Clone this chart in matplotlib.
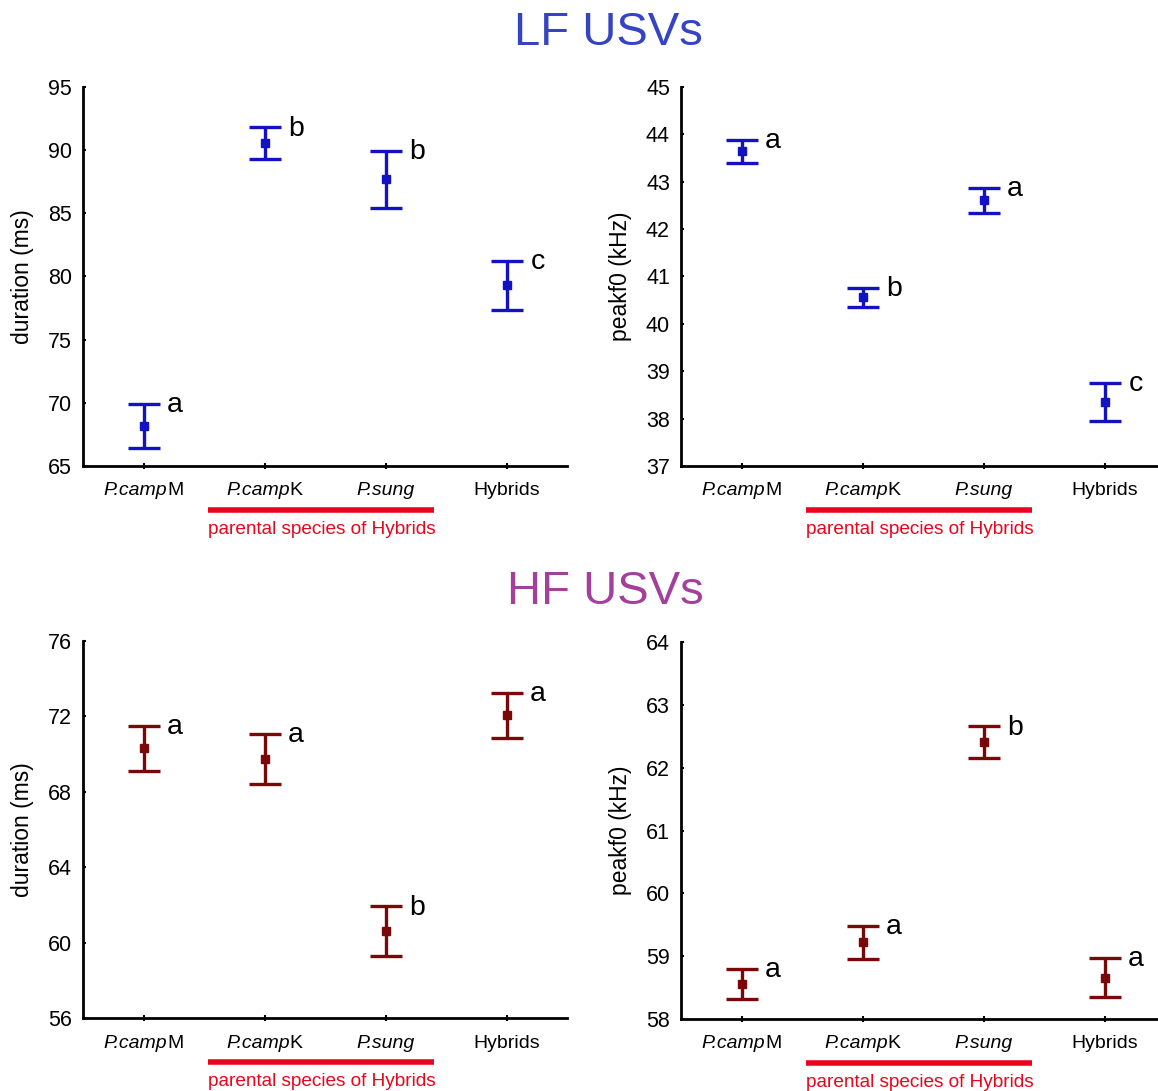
import numpy as np
import matplotlib.pyplot as plt
from matplotlib import transforms
from matplotlib.offsetbox import TextArea, HPacker, AnnotationBbox

plt.rcParams['font.family'] = ['Liberation Sans', 'DejaVu Sans']

# groups on the x axis: (italic part, upright part)
groups = [('P.camp', 'M'), ('P.camp', 'K'), ('P.sung', ''), ('', 'Hybrids')]

# LF USVs
lf_dur_mean = [68.17, 90.57, 87.69, 79.30]
lf_dur_err = [1.75, 1.24, 2.25, 1.96]
lf_dur_letters = ['a', 'b', 'b', 'c']

lf_pk_mean = [43.64, 40.56, 42.61, 38.35]
lf_pk_err = [0.24, 0.20, 0.26, 0.40]
lf_pk_letters = ['a', 'b', 'a', 'c']

# HF USVs
hf_dur_mean = [70.30, 69.73, 60.60, 72.06]
hf_dur_err = [1.21, 1.33, 1.32, 1.19]
hf_dur_letters = ['a', 'a', 'b', 'a']

hf_pk_mean = [58.56, 59.22, 62.41, 58.66]
hf_pk_err = [0.24, 0.265, 0.25, 0.31]
hf_pk_letters = ['a', 'a', 'b', 'a']

BLUE = '#1212C4'
DRED = '#7A0808'
RED = '#E8061E'


def panel(ax, mean, err, letters, color, ylim, yticks, ylabel):
    x = np.arange(len(groups))
    mean = np.array(mean)
    err = np.array(err)
    ax.errorbar(x, mean, yerr=err, fmt='s', ms=6, color=color,
                elinewidth=2.4, capsize=11.5, capthick=2.4, clip_on=False)
    for xi, m, e, l in zip(x, mean, err, letters):
        ax.annotate(l, (xi + 0.26, m + e), xytext=(0, -1), textcoords='offset points',
                    ha='center', va='center', fontsize=20.5)
    ax.set_xlim(-0.5, 3.5)
    ax.set_ylim(*ylim)
    ax.set_yticks(yticks)
    ax.set_xticks(x)
    ax.set_xticklabels([])
    for s in ['top', 'right']:
        ax.spines[s].set_visible(False)
    for s in ['left', 'bottom']:
        ax.spines[s].set_linewidth(2)
    ax.tick_params(axis='y', direction='in', length=2, width=1.5, pad=8, labelsize=15.5)
    ax.tick_params(axis='x', direction='inout', length=5, width=1.5)
    ax.set_ylabel(ylabel, fontsize=16.5)
    ax.yaxis.set_label_coords(-0.101, 0.5)

    trans = transforms.blended_transform_factory(ax.transData, ax.transAxes)

    # category labels with mixed italic / upright text
    for xi, (it, rm) in zip(x, groups):
        parts = []
        if it:
            parts.append(TextArea(it, textprops=dict(fontsize=14, style='italic')))
        if rm:
            parts.append(TextArea(rm, textprops=dict(fontsize=14)))
        box = HPacker(children=parts, pad=0, sep=0, align='baseline')
        ab = AnnotationBbox(box, (xi, 0), xybox=(0, -18), xycoords=trans,
                            boxcoords='offset points', frameon=False,
                            box_alignment=(0.5, 0.5), annotation_clip=False)
        ax.add_artist(ab)

    # parental species bracket
    ax.plot([0.53, 2.40], [-0.117, -0.117], color=RED, lw=4, transform=trans,
            clip_on=False, solid_capstyle='butt')
    ax.text(1.475, -0.168, 'parental species of Hybrids', color=RED, fontsize=13.7,
            ha='center', va='center', transform=trans)


fig = plt.figure(figsize=(11.58, 10.91), dpi=100)

ax1 = fig.add_axes([0.0717, 0.5729, 0.418, 0.3474])
ax2 = fig.add_axes([0.5881, 0.5729, 0.418, 0.3474])
ax3 = fig.add_axes([0.0717, 0.0669, 0.418, 0.3456])
ax4 = fig.add_axes([0.5881, 0.0660, 0.418, 0.3455])

panel(ax1, lf_dur_mean, lf_dur_err, lf_dur_letters, BLUE, (65, 95),
      np.arange(65, 96, 5), 'duration (ms)')
panel(ax2, lf_pk_mean, lf_pk_err, lf_pk_letters, BLUE, (37, 45),
      np.arange(37, 46, 1), 'peakf0 (kHz)')
panel(ax3, hf_dur_mean, hf_dur_err, hf_dur_letters, DRED, (56, 76),
      np.arange(56, 77, 4), 'duration (ms)')
panel(ax4, hf_pk_mean, hf_pk_err, hf_pk_letters, DRED, (58, 64),
      np.arange(58, 65, 1), 'peakf0 (kHz)')

fig.text(0.525, 0.970, 'LF USVs', color='#3444C2', fontsize=34, ha='center', va='center')
fig.text(0.523, 0.457, 'HF USVs', color='#A2409C', fontsize=34, ha='center', va='center')

fig.savefig('out.png', dpi=100)
